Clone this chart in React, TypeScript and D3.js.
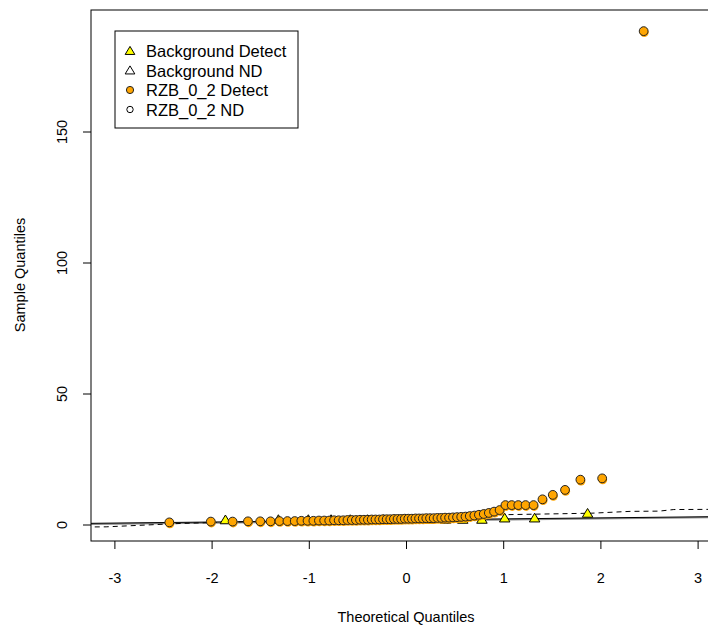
import React from "react";
import * as d3 from "d3";

// Theoretical quantiles (qnorm(ppoints(68)))
const rzbQuantiles = [
  -2.440, -2.013, -1.789, -1.631, -1.505, -1.399, -1.307, -1.225, -1.150, -1.082,
  -1.018, -0.958, -0.901, -0.847, -0.795, -0.745, -0.698, -0.651, -0.607, -0.563,
  -0.520, -0.478, -0.438, -0.397, -0.358, -0.319, -0.280, -0.242, -0.204, -0.167,
  -0.129, -0.092, -0.055, -0.018, 0.018, 0.055, 0.092, 0.129, 0.167, 0.204,
  0.242, 0.280, 0.319, 0.358, 0.397, 0.438, 0.478, 0.520, 0.563, 0.607,
  0.651, 0.698, 0.745, 0.795, 0.847, 0.901, 0.958, 1.018, 1.082, 1.150,
  1.225, 1.307, 1.399, 1.505, 1.631, 1.789, 2.013, 2.440,
];
// Sorted sample values, RZB_0_2 Detect
const rzbValues = [
  1.0, 1.3, 1.3, 1.4, 1.4, 1.4, 1.5, 1.5, 1.5, 1.6,
  1.6, 1.6, 1.7, 1.7, 1.7, 1.8, 1.8, 1.8, 1.9, 1.9,
  1.9, 2.0, 2.0, 2.0, 2.1, 2.1, 2.1, 2.2, 2.2, 2.2,
  2.3, 2.3, 2.3, 2.4, 2.4, 2.4, 2.5, 2.5, 2.5, 2.6,
  2.6, 2.6, 2.7, 2.7, 2.8, 2.8, 2.9, 3.0, 3.1, 3.2,
  3.4, 3.6, 3.9, 4.2, 4.6, 5.1, 5.7, 7.6, 7.6, 7.6,
  7.6, 7.6, 9.8, 11.5, 13.4, 17.3, 17.8, 188.5,
];
// Theoretical quantiles (qnorm(ppoints(16)))
const bgQuantiles = [
  -1.863, -1.318, -1.010, -0.776, -0.579, -0.402, -0.237, -0.078,
  0.078, 0.237, 0.402, 0.579, 0.776, 1.010, 1.318, 1.863,
];
const bgValues = [
  1.9, 2.0, 2.0, 2.0, 2.0, 2.0, 2.0, 2.0,
  2.1, 2.1, 2.1, 2.1, 2.1, 2.6, 2.6, 4.4,
];
// Reference lines
const solidLineQ = [-3.3, 3.3];
const solidLineV = [0.62, 3.24];
const dashedLineQ = [-3.3, -3.09, -2.32, 0.95, 1.9, 2.3, 2.6, 2.75, 3.3];
const dashedLineV = [-0.75, -0.7, 0.6, 3.9, 4.5, 5.2, 5.3, 5.9, 6.0];

const xTicks = [-3, -2, -1, 0, 1, 2, 3];
const yTicks = [0, 50, 100, 150];
const legendLabels = ["Background Detect", "Background ND", "RZB_0_2 Detect", "RZB_0_2 ND"];

const FONT = "'Liberation Sans', Arial, Helvetica, sans-serif";

export default function App() {
  const x = d3.scaleLinear().domain([-3, 3]).range([114.9, 698.1]);
  const y = d3.scaleLinear().domain([0, 150]).range([525, 132]);
  const left = 91, right = 722, top = 10, bottom = 541;

  const solid = d3.line<number>().x((d) => x(solidLineQ[d])).y((d) => y(solidLineV[d]));
  const dashed = d3.line<number>().x((d) => x(dashedLineQ[d])).y((d) => y(dashedLineV[d]));
  const tri = (cx: number, cy: number, s = 5) =>
    `M${cx},${cy - s}L${cx + s * 1.05},${cy + s * 0.75}L${cx - s * 1.05},${cy + s * 0.75}Z`;

  return (
    <svg width={708} height={626} style={{ position: "absolute", left: 0, top: 0, background: "#fff" }} fontFamily={FONT}>
      <rect x={0} y={0} width={708} height={626} fill="#fff" />
      <defs>
        <clipPath id="plotclip">
          <rect x={left} y={top} width={right - left} height={bottom - top} />
        </clipPath>
      </defs>
      <g clipPath="url(#plotclip)">
        <path d={solid(solidLineQ.map((_, i) => i)) || ""} stroke="#888" strokeWidth={1.6} fill="none" transform="translate(0,0.8)" />
        <path d={solid(solidLineQ.map((_, i) => i)) || ""} stroke="#000" strokeWidth={1} fill="none" />
        <path d={dashed(dashedLineQ.map((_, i) => i)) || ""} stroke="#000" strokeWidth={1} strokeDasharray="5,4" fill="none" />
        {bgQuantiles.map((q, i) => (
          <path key={"bg" + i} d={tri(x(q), y(bgValues[i]))} fill="#ffff00" stroke="#000" strokeWidth={1} />
        ))}
        {rzbQuantiles.map((q, i) => (
          <circle key={"rs" + i} cx={x(q) + 0.6} cy={y(rzbValues[i]) + 1.4} r={4.4} fill="#ffa500" />
        ))}
        {rzbQuantiles.map((q, i) => (
          <circle key={"r" + i} cx={x(q)} cy={y(rzbValues[i])} r={4.4} fill="#ffa500" stroke="#222" strokeWidth={1} />
        ))}
      </g>
      <rect x={left} y={top} width={right - left} height={bottom - top} fill="none" stroke="#000" strokeWidth={1} />
      {/* x axis */}
      {xTicks.map((t) => (
        <g key={"xt" + t}>
          <line x1={x(t)} x2={x(t)} y1={bottom} y2={bottom + 8} stroke="#000" />
          <text x={x(t)} y={583} textAnchor="middle" fontSize={14.5}>{t < 0 ? "-" + Math.abs(t) : t}</text>
        </g>
      ))}
      {/* y axis */}
      {yTicks.map((t) => (
        <g key={"yt" + t}>
          <line x1={left} x2={left - 8} y1={y(t)} y2={y(t)} stroke="#000" />
          <text transform={`translate(67,${y(t)}) rotate(-90)`} textAnchor="middle" fontSize={14.5}>{t}</text>
        </g>
      ))}
      <text x={406} y={622} textAnchor="middle" fontSize={14.5}>Theoretical Quantiles</text>
      <text transform="translate(25,275) rotate(-90)" textAnchor="middle" fontSize={14.5}>Sample Quantiles</text>
      {/* legend */}
      <rect x={115} y={31} width={183} height={97} fill="#fff" stroke="#000" strokeWidth={1} />
      {legendLabels.map((lab, i) => {
        const cy = 51 + i * 19.5;
        return (
          <g key={"lg" + i}>
            {i === 0 && <path d={tri(130, cy, 4.6)} fill="#ffff00" stroke="#000" />}
            {i === 1 && <path d={tri(130, cy, 4.6)} fill="none" stroke="#000" />}
            {i === 2 && <circle cx={130} cy={cy} r={3.6} fill="#ffa500" stroke="#222" />}
            {i === 3 && <circle cx={130} cy={cy} r={3.2} fill="none" stroke="#000" />}
            <text x={146} y={cy + 6} fontSize={16.5}>{lab}</text>
          </g>
        );
      })}
    </svg>
  );
}
